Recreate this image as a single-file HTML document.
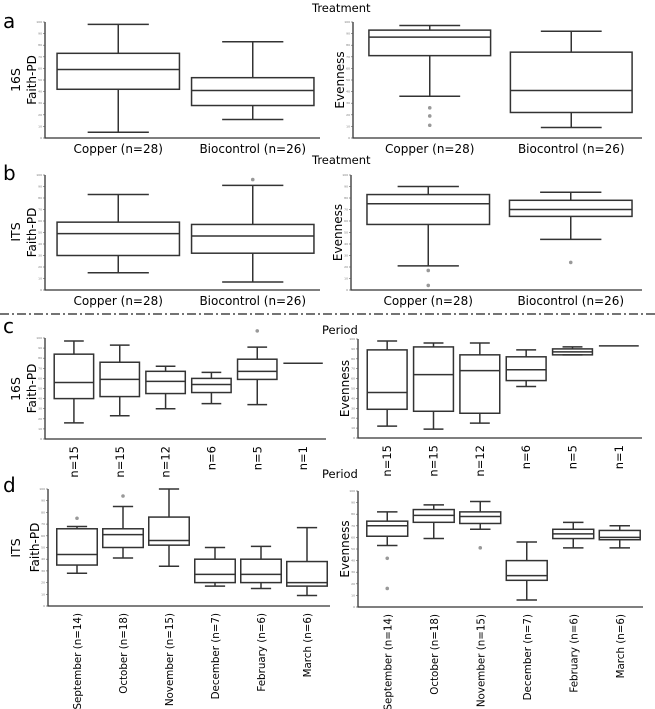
<!DOCTYPE html>
<html><head><meta charset="utf-8"><style>
body{margin:0;background:#fff;}
svg{display:block;font-family:"DejaVu Sans","Liberation Sans",sans-serif;}
</style></head><body>
<svg id="fig" width="655" height="709" viewBox="0 0 655 709" xmlns="http://www.w3.org/2000/svg">
<text x="312" y="12" font-size="11.5">Treatment</text>
<text x="312" y="164" font-size="11.5">Treatment</text>
<text x="322" y="334" font-size="11.5">Period</text>
<text x="322" y="478" font-size="11.5">Period</text>
<text x="3" y="28" font-size="20">a</text>
<text x="3" y="180" font-size="20">b</text>
<text x="3" y="333" font-size="20">c</text>
<text x="3" y="492" font-size="20">d</text>
<text transform="translate(20,80) rotate(-90)" text-anchor="middle" font-size="12.5">16S</text>
<text transform="translate(20,232) rotate(-90)" text-anchor="middle" font-size="12.5">ITS</text>
<text transform="translate(20,389) rotate(-90)" text-anchor="middle" font-size="12.5">16S</text>
<text transform="translate(20,548) rotate(-90)" text-anchor="middle" font-size="12.5">ITS</text>
<line x1="0" y1="314" x2="655" y2="314" stroke="#222" stroke-width="1.3" stroke-dasharray="9,3,2,3"/>
</svg>
<script>
const catsTreat = ["Copper (n=28)", "Biocontrol (n=26)"];
const catsC = ["n=15", "n=15", "n=12", "n=6", "n=5", "n=1"];
const catsD = ["September (n=14)", "October (n=18)", "November (n=15)", "December (n=7)", "February (n=6)", "March (n=6)"];
// each box: [whiskerTop, Q3, median, Q1, whiskerBottom] on a 0-100 scale
const aFaith = [[98,73,59,42,5],[83,52,41,28,16]];
const aFaithOut = [[],[]];
const aEven = [[97,93,87,71,36],[92,74,41,22,9]];
const aEvenOut = [[26,19,11],[]];
const bFaith = [[83,59,49,30,15],[91,57,47,32,7]];
const bFaithOut = [[],[96]];
const bEven = [[90,83,75,57,21],[85,78,70,64,44]];
const bEvenOut = [[17,4],[24]];
const cFaith = [[97,84,56,40,16],[93,76,59,42,23],[72,67,57,45,30],[66,60,54,46,35],[91,79,67,59,34],[75,75,75,75,75]];
const cFaithOut = [[],[],[],[],[107],[]];
const cEven = [[98,89,46,29,12],[96,92,64,27,9],[96,84,68,25,15],[89,82,69,58,52],[92,90,87,84,84],[93,93,93,93,93]];
const cEvenOut = [[],[],[],[],[],[]];
const dFaith = [[68,66,44,35,28],[85,66,61,50,41],[100,76,56,52,34],[50,40,27,20,17],[51,40,27,20,15],[67,38,20,17,9]];
const dFaithOut = [[75],[94],[],[],[],[]];
const dEven = [[82,74,70,61,53],[88,84,79,73,59],[91,82,78,72,67],[56,40,27,23,6],[73,67,63,59,51],[70,66,60,58,51]];
const dEvenOut = [[42,16],[],[51],[],[],[]];
const yTicks = [0,10,20,30,40,50,60,70,80,90,100];

const svg = document.getElementById('fig');
const NS = 'http://www.w3.org/2000/svg';
function mk(tag, attrs, parent){
  const e = document.createElementNS(NS, tag);
  for (const k in attrs) e.setAttribute(k, attrs[k]);
  (parent||svg).appendChild(e);
  return e;
}
function panel(id, x0, x1, yTop, yBot, cats, boxes, outs, ylabel, rotated, boxFrac, lblY, lblSize){
  const g = mk('g', {});
  
  
  const yS = v => yBot - v/100*(yBot-yTop);
  const band = (x1 - x0 - 6)/cats.length;
  const xC = i => x0 + 6 + band*(i+0.5);
  const ax = mk('path', {d:`M${x0},${yTop} V${yBot} H${x1}`, fill:'none', stroke:'#333', 'stroke-width':1.3}, g);
  
  
  yTicks.forEach(t => {
    const tk = mk('line', {x1:x0-2, x2:x0, y1:yS(t), y2:yS(t), stroke:'#555', 'stroke-width':0.6}, g);
    
    
    const tl = mk('text', {x:x0-3, y:yS(t)+1, 'font-size':3, fill:'#777', 'text-anchor':'end'}, g);
    tl.textContent = t;
    
    
  });
  const yl = mk('text', {transform:`translate(${x0-9},${(yTop+yBot)/2}) rotate(-90)`, 'text-anchor':'middle', 'font-size':12}, g);
  yl.textContent = ylabel;
  
  
  cats.forEach((c, i) => {
    const cx = xC(i), w = band*boxFrac, h = w/2;
    const d = boxes[i];
    const bg = mk('g', {}, g);
    
    
    const st = {stroke:'#333', 'stroke-width':1.5, fill:'none'};
    if (d[0] === d[4]) {
      mk('line', Object.assign({x1:cx-h, x2:cx+h, y1:yS(d[2]), y2:yS(d[2])}, st), bg);
    } else {
      const wh = w*0.5;
      mk('line', Object.assign({x1:cx, x2:cx, y1:yS(d[0]), y2:yS(d[1])}, st), bg);
      mk('line', Object.assign({x1:cx, x2:cx, y1:yS(d[3]), y2:yS(d[4])}, st), bg);
      mk('line', Object.assign({x1:cx-wh/2, x2:cx+wh/2, y1:yS(d[0]), y2:yS(d[0])}, st), bg);
      mk('line', Object.assign({x1:cx-wh/2, x2:cx+wh/2, y1:yS(d[4]), y2:yS(d[4])}, st), bg);
      mk('rect', Object.assign({x:cx-h, y:yS(d[1]), width:w, height:yS(d[3])-yS(d[1])}, st), bg);
      mk('line', Object.assign({x1:cx-h, x2:cx+h, y1:yS(d[2]), y2:yS(d[2])}, st), bg);
    }
    (outs[i]||[]).forEach(o => {
      const p = mk('circle', {cx:cx, cy:yS(o), r:1.8, fill:'#999'}, bg);
      
      
    });
    let t;
    if (rotated) {
      t = mk('text', {transform:`translate(${cx+4},${yBot+7}) rotate(-90)`, 'text-anchor':'end', 'font-size':lblSize||11.5}, g);
    } else {
      t = mk('text', {x:cx, y:lblY, 'text-anchor':'middle', 'font-size':12}, g);
    }
    t.textContent = c;
    
    
  });
}
panel('panel-a-faith', 45, 320, 22, 138, catsTreat, aFaith, aFaithOut, 'Faith-PD', false, 0.91, 153);
panel('panel-a-evenness', 353, 642, 22, 138, catsTreat, aEven, aEvenOut, 'Evenness', false, 0.86, 153);
panel('panel-b-faith', 45, 320, 175, 290, catsTreat, bFaith, bFaithOut, 'Faith-PD', false, 0.91, 305);
panel('panel-b-evenness', 351, 642, 175, 290, catsTreat, bEven, bEvenOut, 'Evenness', false, 0.86, 305);
panel('panel-c-faith', 45, 326, 338, 439, catsC, cFaith, cFaithOut, 'Faith-PD', true, 0.86, 0, 11.5);
panel('panel-c-evenness', 358, 642, 339, 438, catsC, cEven, cEvenOut, 'Evenness', true, 0.86, 0, 11.5);
panel('panel-d-faith', 48, 330, 489, 606, catsD, dFaith, dFaithOut, 'Faith-PD', true, 0.88, 0, 10.3);
panel('panel-d-evenness', 358, 643, 491, 607, catsD, dEven, dEvenOut, 'Evenness', true, 0.88, 0, 10.3);
</script>
</body></html>
